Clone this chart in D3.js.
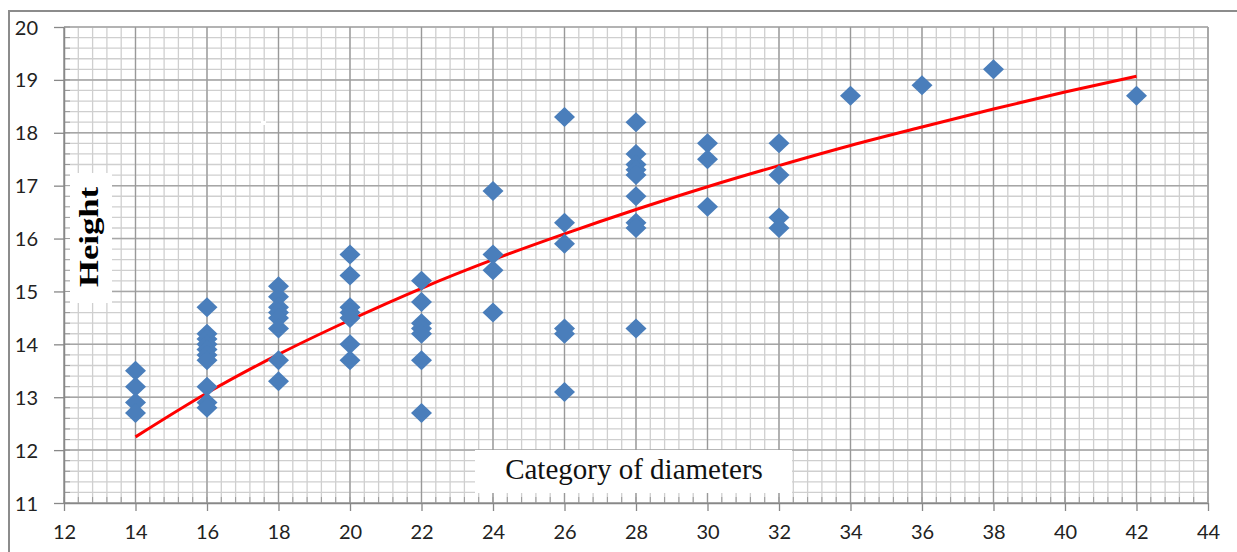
<!DOCTYPE html>
<html>
<head>
<meta charset="utf-8">
<script src="https://cdn.jsdelivr.net/npm/d3@7"></script>
<style>
  body { margin: 0; background: #fff; }
  svg { display: block; }
</style>
</head>
<body>
<div id="chart"></div>
<script>
const width = 1237;
const height = 552;

// diameter categories and the heights measured in each one
const diameters = [14, 16, 18, 20, 22, 24, 26, 28, 30, 32, 34, 36, 38, 42];
const heights = [
  [13.5, 13.2, 12.9, 12.7],
  [14.7, 14.2, 14.1, 14.0, 13.9, 13.8, 13.7, 13.2, 12.9, 12.8],
  [15.1, 14.9, 14.7, 14.6, 14.5, 14.3, 13.7, 13.3],
  [15.7, 15.3, 14.7, 14.6, 14.5, 14.0, 13.7],
  [15.2, 14.8, 14.4, 14.3, 14.2, 13.7, 12.7],
  [16.9, 15.7, 15.4, 14.6],
  [18.3, 16.3, 15.9, 14.3, 14.2, 13.1],
  [18.2, 17.6, 17.4, 17.3, 17.2, 16.8, 16.3, 16.2, 14.3],
  [17.8, 17.5, 16.6],
  [17.8, 17.2, 16.4, 16.2],
  [18.7],
  [18.9],
  [19.2],
  [18.7]
];
// trend line (log curve) at each even diameter
const trendX = [14, 16, 18, 20, 22, 24, 26, 28, 30, 32, 34, 36, 38, 40, 42];
const trendY = [12.25, 13.08, 13.81, 14.46, 15.06, 15.6, 16.09, 16.55, 16.98, 17.38, 17.76, 18.11, 18.45, 18.77, 19.07];

const xTicks = [12, 14, 16, 18, 20, 22, 24, 26, 28, 30, 32, 34, 36, 38, 40, 42, 44];
const yTicks = [11, 12, 13, 14, 15, 16, 17, 18, 19, 20];

const points = [];
diameters.forEach((d, i) => heights[i].forEach(h => points.push({ x: d, y: h })));
const trend = trendX.map((v, i) => ({ x: v, y: trendY[i] }));

const margin = { left: 64, top: 27, right: 29, bottom: 49 };
const plotW = width - margin.left - margin.right;
const plotH = height - margin.top - margin.bottom;

const x_scale = d3.scaleLinear().domain([12, 44]).range([0, plotW]);
const y_scale = d3.scaleLinear().domain([11, 20]).range([plotH, 0]);

const svg = d3.select("#chart").append("svg")
  .attr("width", width)
  .attr("height", height);

// outer chart frame
svg.append("path")
  .attr("d", "M9," + height + " V11 H" + width)
  .attr("fill", "none")
  .attr("stroke", "#8c8c8c")
  .attr("stroke-width", 2);

const g = svg.append("g").attr("transform", "translate(" + margin.left + "," + margin.top + ")");

// gridlines
const xMinor = d3.range(12, 44.001, 0.4);
const yMinor = d3.range(11, 20.001, 0.2);

g.selectAll(".vminor").data(xMinor).enter().append("line")
  .attr("x1", d => x_scale(d)).attr("x2", d => x_scale(d))
  .attr("y1", 0).attr("y2", plotH)
  .attr("stroke", "#cfcfcf").attr("stroke-width", 1.3);

g.selectAll(".hminor").data(yMinor).enter().append("line")
  .attr("x1", 0).attr("x2", plotW)
  .attr("y1", d => y_scale(d)).attr("y2", d => y_scale(d))
  .attr("stroke", "#cfcfcf").attr("stroke-width", 1.3);

g.selectAll(".hmajor").data(yTicks).enter().append("line")
  .attr("x1", 0).attr("x2", plotW)
  .attr("y1", d => y_scale(d)).attr("y2", d => y_scale(d))
  .attr("stroke", "#a6a6a6").attr("stroke-width", 1.5);

g.selectAll(".vmajor").data(xTicks).enter().append("line")
  .attr("x1", d => x_scale(d)).attr("x2", d => x_scale(d))
  .attr("y1", 0).attr("y2", plotH)
  .attr("stroke", "#999").attr("stroke-width", 1.3);

// little white speck in the grid
g.append("rect").attr("x", 197).attr("y", 94).attr("width", 5).attr("height", 4).attr("fill", "#fff");

// label boxes (white backgrounds hide the grid)
g.append("rect").attr("x", 1).attr("y", 146).attr("width", 47).attr("height", 130).attr("fill", "#fff");
g.append("rect").attr("x", 411).attr("y", 423).attr("width", 317).attr("height", 43).attr("fill", "#fff");

// minor ticks inside along the axes
g.selectAll(".xmt").data(xMinor).enter().append("line")
  .attr("x1", d => x_scale(d)).attr("x2", d => x_scale(d))
  .attr("y1", plotH).attr("y2", plotH - 6)
  .attr("stroke", "#999").attr("stroke-width", 1);
g.selectAll(".ymt").data(yMinor).enter().append("line")
  .attr("x1", 0).attr("x2", 6)
  .attr("y1", d => y_scale(d)).attr("y2", d => y_scale(d))
  .attr("stroke", "#999").attr("stroke-width", 1);

// axes
const x_axis = d3.axisBottom(x_scale).tickValues(xTicks).tickSize(8).tickSizeOuter(0).tickPadding(14);
const y_axis = d3.axisLeft(y_scale).tickValues(yTicks).tickSize(10).tickSizeOuter(0).tickPadding(16);

const xg = g.append("g").attr("transform", "translate(0," + plotH + ")").call(x_axis);
const yg = g.append("g").call(y_axis);

[xg, yg].forEach(a => {
  a.selectAll("path").attr("stroke", "#888").attr("stroke-width", 1.5);
  a.selectAll("line").attr("stroke", "#888").attr("stroke-width", 1.3);
  a.selectAll("text")
    .attr("fill", "#222")
    .style("font-family", "Lato, 'Open Sans', sans-serif")
    .style("font-size", "20px");
});
yg.selectAll("text").attr("dy", "0.35em");
g.append("line").attr("x1", plotW).attr("x2", plotW).attr("y1", 0).attr("y2", plotH)
  .attr("stroke", "#a6a6a6").attr("stroke-width", 1.5);

// trend line
g.append("path")
  .datum(trend)
  .attr("fill", "none")
  .attr("stroke", "#ff0000")
  .attr("stroke-width", 3)
  .attr("d", d3.line().x(d => x_scale(d.x)).y(d => y_scale(d.y)).curve(d3.curveMonotoneX));

// diamonds
g.selectAll(".dot").data(points).enter().append("path")
  .attr("class", "dot")
  .attr("transform", d => "translate(" + x_scale(d.x) + "," + y_scale(d.y) + ")")
  .attr("d", "M0,-10L10.5,0L0,10L-10.5,0Z")
  .attr("fill", "#4a7ebb");

// titles
g.append("text")
  .attr("transform", "translate(34,210) rotate(-90)")
  .attr("text-anchor", "middle")
  .style("font-family", "'Liberation Serif', 'Times New Roman', serif")
  .style("font-weight", "bold")
  .style("font-size", "28px")
  .attr("textLength", 100)
  .attr("lengthAdjust", "spacingAndGlyphs")
  .text("Height");

g.append("text")
  .attr("x", 570)
  .attr("y", 452)
  .attr("text-anchor", "middle")
  .style("font-family", "'Liberation Serif', 'Times New Roman', serif")
  .style("font-size", "29px")
  .attr("fill", "#111")
  .text("Category of diameters");
</script>
</body>
</html>
